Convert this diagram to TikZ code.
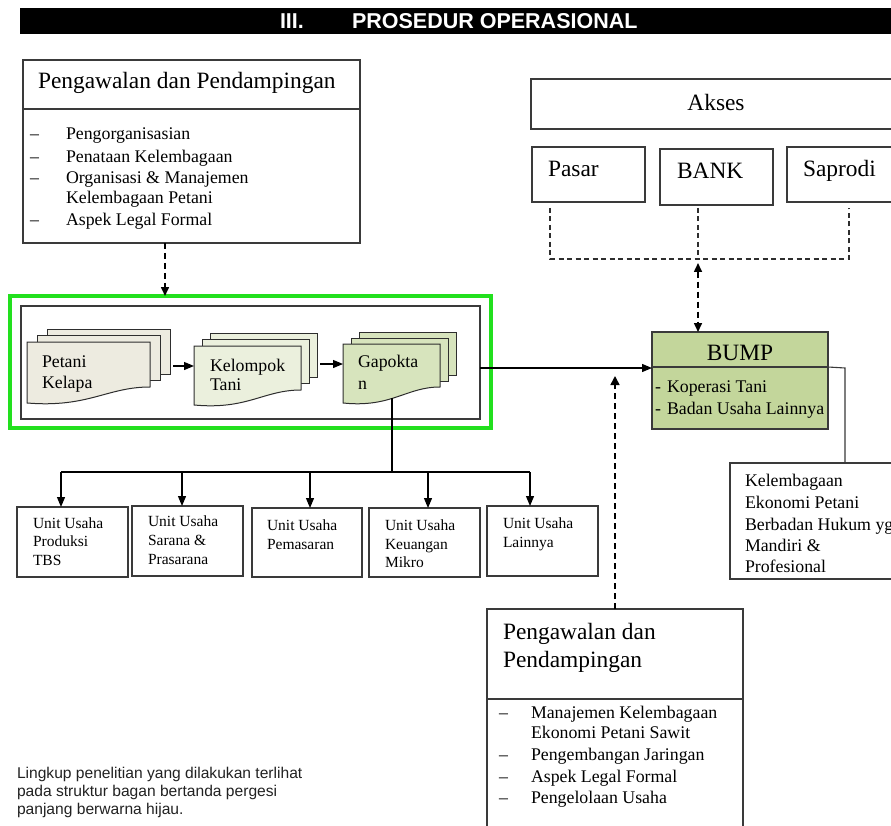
\documentclass[tikz,border=0pt]{standalone}
\usepackage{fontspec}
\setmainfont{Liberation Serif}
\newfontfamily\hsans{Liberation Sans}
\usetikzlibrary{arrows.meta,calc}
\definecolor{gbright}{HTML}{22E01E}
\definecolor{bcol}{HTML}{3A3A3A}
\definecolor{dline}{HTML}{2E2E2E}
\definecolor{docA}{HTML}{EDEBE0}
\definecolor{docB}{HTML}{EBF0DD}
\definecolor{docC}{HTML}{D7E4BD}
\definecolor{bumpc}{HTML}{C3D69B}
\definecolor{foot}{HTML}{222222}
\newcommand\fszA{\fontsize{23.4}{28}\selectfont}
\newcommand\fszB{\fontsize{17.8}{21}\selectfont}
\newcommand\fszC{\fontsize{15.5}{18.5}\selectfont}
\newcommand\fszD{\hsans\fontsize{15.6}{18}\selectfont}
\newcommand\docstack[9]{%
  \filldraw[#8, draw=dline, line width=1pt] ({#1+2*#6},{#2-2*#7}) rectangle ({#3+2*#6},{#4-2*#7});
  \filldraw[#8, draw=dline, line width=1pt] ({#1+#6},{#2-#7}) rectangle ({#3+#6},{#4-#7});
  \filldraw[#8, draw=dline, line width=1pt] (#1,#2) -- (#3,#2) -- (#3,#4) .. controls ({#3-0.35*(#3-#1)},#4) and ({#1+0.5*(#3-#1)},{#5+5}) .. (#1,#5) -- cycle;
  \node[inner sep=0pt, outer sep=0pt, anchor=north west, minimum width={#3-#1+2*#6}, minimum height={#5-#2+2*#7}] (#9) at (#1,{#2-2*#7}) {};
}
\begin{document}
\begin{tikzpicture}[x=1pt,y=-1pt,
  bx/.style={draw=bcol, line width=1.3pt, inner sep=0pt, outer sep=0pt, anchor=north west},
  tx/.style={inner sep=0pt, outer sep=0pt, anchor=base west},
  bline/.style={draw=bcol, line width=1.3pt},
  conn/.style={draw=black, line width=1.2pt},
  arr/.style={conn, -{Triangle[length=10pt,width=8pt]}},
  darr/.style={draw=black, line width=1.6pt, dash pattern=on 6pt off 4pt},
  gdash/.style={draw=dline, line width=1.1pt, dash pattern=on 5pt off 3.5pt}]
\clip (0,0) rectangle (891,826);
\fill[white] (0,0) rectangle (891,826);
% coordinates for connector positions
\coordinate (c61) at (61,0);
\coordinate (c165) at (165,0);
\coordinate (c182) at (182,0);
\coordinate (c310) at (310,0);
\coordinate (c392) at (392,0);
\coordinate (c428) at (428,0);
\coordinate (c530) at (530,0);
\coordinate (c550) at (550,0);
\coordinate (c615) at (615,0);
\coordinate (c698) at (698,0);
\coordinate (c849) at (849,0);
\coordinate (c845) at (845,0);
\coordinate (y259) at (0,259);
\coordinate (y368) at (0,368);
\coordinate (y472) at (0,472);

% header
\node[fill=black, inner sep=0pt, outer sep=0pt, minimum width=880pt, minimum height=26pt, anchor=north west] (hdr) at (20,8) {};
\node[tx, text=white, font=\hsans\bfseries\fontsize{21.5}{24}\selectfont] (h1) at (280,28.5) {III.};
\node[tx, text=white, font=\hsans\bfseries\fontsize{21.5}{24}\selectfont] (h2) at (352,28.5) {PROSEDUR OPERASIONAL};

% top-left box
\node[bx, minimum width=337pt, minimum height=183pt] (pp1) at (23,60) {};
\draw[bline] ($(pp1.north west)+(0,49)$) -- ($(pp1.north east)+(0,49)$);
\node[tx, font=\fszA] (pp1t) at (38,89) {Pengawalan dan Pendampingan};
\node[tx, font=\fszB] (pp1d1) at (30,140) {–};
\node[tx, font=\fszB] (pp1a) at (66,140) {Pengorganisasian};
\node[tx, font=\fszB] (pp1d2) at (30,163) {–};
\node[tx, font=\fszB] (pp1b) at (66,163) {Penataan Kelembagaan};
\node[tx, font=\fszB] (pp1d3) at (30,184) {–};
\node[tx, font=\fszB] (pp1c) at (66,184) {Organisasi \& Manajemen};
\node[tx, font=\fszB] (pp1c2) at (66,204) {Kelembagaan Petani};
\node[tx, font=\fszB] (pp1d4) at (30,226) {–};
\node[tx, font=\fszB] (pp1e) at (66,226) {Aspek Legal Formal};

% green frame and inner box
\node[draw=gbright, line width=4pt, inner sep=0pt, outer sep=0pt, anchor=north west, minimum width=481pt, minimum height=132pt] (green) at (10,296) {};
\node[bx, minimum width=459pt, minimum height=113pt] (inner) at (21,306) {};
\draw[darr, -{Triangle[length=9pt,width=8pt]}] (pp1.south -| c165) -- (green.north -| c165);

% document stacks
\docstack{27}{342}{150}{387}{403}{10}{6.5}{docA}{pet}
\docstack{194}{346}{301}{390}{405}{8}{6.5}{docB}{kel}
\docstack{343}{344}{440}{387}{403}{8}{6}{docC}{gap}
\node[tx, font=\fszB] (pett1) at (42,367) {Petani};
\node[tx, font=\fszB] (pett2) at (42,388) {Kelapa};
\node[tx, font=\fszB] (kelt1) at (210,371) {Kelompok};
\node[tx, font=\fszB] (kelt2) at (210,390) {Tani};
\node[tx, font=\fszB] (gapt1) at (358,367) {Gapokta};
\node[tx, font=\fszB] (gapt2) at (358,389) {n};
\draw[arr, shorten <=3pt] (pet.east) -- (pet.east -| kel.west);
\draw[arr, shorten <=3pt] ($(kel.east)+(0,-5)$) -- ($(kel.east -| gap.west)+(0,-5)$);

% Akses group
\node[bx, minimum width=370pt, minimum height=50pt] (akses) at (531,79) {};
\node[font=\fszA, inner sep=0pt] (akst) at (716,102) {Akses};
\node[bx, minimum width=113pt, minimum height=55pt] (pasar) at (532,147) {};
\node[tx, font=\fszA] (pasart) at (548,176.5) {Pasar};
\node[bx, minimum width=113pt, minimum height=56pt] (bank) at (660,149) {};
\node[tx, font=\fszA] (bankt) at (677,179) {BANK};
\node[bx, minimum width=114pt, minimum height=55pt] (saprodi) at (787,147) {};
\node[tx, font=\fszA] (saprodit) at (803,176.5) {Saprodi};
\draw[gdash] ($(pasar.south -| c550)+(0,6)$) -- (c550 |- y259) -- (c849 |- y259) -- ($(saprodi.south -| c849)+(0,6)$);
\draw[gdash] ($(bank.south -| c698)+(0,3)$) -- (c698 |- y259);

% BUMP
\node[bx, fill=bumpc, minimum width=176pt, minimum height=97pt] (bump) at (652,332) {};
\draw[bline] ($(bump.north west)+(0,35)$) -- ($(bump.north east)+(0,35)$);
\node[font=\fszA, inner sep=0pt, anchor=base] (bumpt) at (740,360) {BUMP};
\node[tx, font=\fszB] (bd1) at (655,392) {-};
\node[tx, font=\fszB] (bi1) at (667,392) {Koperasi Tani};
\node[tx, font=\fszB] (bd2) at (655,414) {-};
\node[tx, font=\fszB] (bi2) at (667,414) {Badan Usaha Lainnya};
\draw[darr, {Triangle[length=9pt,width=8pt]}-{Triangle[length=9pt,width=8pt]}] ($(c698 |- y259)+(0,4)$) -- (bump.north -| c698);
\draw[arr] (inner.east |- y368) -- (bump.west |- y368);

% Kelembagaan box
\node[bx, minimum width=180pt, minimum height=116pt] (kel2) at (730,463) {};
\draw[conn, line width=1.1pt, draw=bcol] ($(bump.north east)+(0,35)$) -- (c845 |- y368) -- (kel2.north -| c845);
\node[tx, font=\fszB] (k1) at (745,486) {Kelembagaan};
\node[tx, font=\fszB] (k2) at (745,508) {Ekonomi Petani};
\node[tx, font=\fszB] (k3) at (745,530) {Berbadan Hukum yg};
\node[tx, font=\fszB] (k4) at (745,551) {Mandiri \&};
\node[tx, font=\fszB] (k5) at (745,572) {Profesional};

% bottom-right Pengawalan box
\node[bx, minimum width=256pt, minimum height=240pt] (pp2) at (487,609) {};
\draw[bline] ($(pp2.north west)+(0,90)$) -- ($(pp2.north east)+(0,90)$);
\node[tx, font=\fszA] (pp2t1) at (503,639) {Pengawalan dan};
\node[tx, font=\fszA] (pp2t2) at (503,667) {Pendampingan};
\node[tx, font=\fszB] (pp2d1) at (499,718) {–};
\node[tx, font=\fszB] (pp2a) at (531,718) {Manajemen Kelembagaan};
\node[tx, font=\fszB] (pp2a2) at (531,738) {Ekonomi Petani Sawit};
\node[tx, font=\fszB] (pp2d2) at (499,760) {–};
\node[tx, font=\fszB] (pp2b) at (531,760) {Pengembangan Jaringan};
\node[tx, font=\fszB] (pp2d3) at (499,782) {–};
\node[tx, font=\fszB] (pp2c) at (531,782) {Aspek Legal Formal};
\node[tx, font=\fszB] (pp2d4) at (499,803) {–};
\node[tx, font=\fszB] (pp2e) at (531,803) {Pengelolaan Usaha};
\draw[darr, -{Triangle[length=9pt,width=9pt]}] (pp2.north -| c615) -- (c615 |- 0,376);

% unit boxes
\node[bx, minimum width=111pt, minimum height=70pt] (u1) at (17,507) {};
\node[bx, minimum width=111pt, minimum height=70pt] (u2) at (132,506) {};
\node[bx, minimum width=110pt, minimum height=69pt] (u3) at (252,508) {};
\node[bx, minimum width=111pt, minimum height=69pt] (u4) at (369,508) {};
\node[bx, minimum width=111pt, minimum height=70pt] (u5) at (487,506) {};
\node[tx, font=\fszC] (u1a) at (33,528) {Unit Usaha};
\node[tx, font=\fszC] (u1b) at (33,546.5) {Produksi};
\node[tx, font=\fszC] (u1c) at (33,565) {TBS};
\node[tx, font=\fszC] (u2a) at (148,526) {Unit Usaha};
\node[tx, font=\fszC] (u2b) at (148,545) {Sarana \&};
\node[tx, font=\fszC] (u2c) at (148,564) {Prasarana};
\node[tx, font=\fszC] (u3a) at (267,530) {Unit Usaha};
\node[tx, font=\fszC] (u3b) at (267,549) {Pemasaran};
\node[tx, font=\fszC] (u4a) at (385,530) {Unit Usaha};
\node[tx, font=\fszC] (u4b) at (385,549) {Keuangan};
\node[tx, font=\fszC] (u4c) at (385,567) {Mikro};
\node[tx, font=\fszC] (u5a) at (503,528) {Unit Usaha};
\node[tx, font=\fszC] (u5b) at (503,547) {Lainnya};

% bus
\draw[conn] ($(gap.south -| c392)+(0,-5)$) -- (c392 |- y472);
\draw[conn] (c61 |- y472) -- (c530 |- y472);
\draw[arr] (c61 |- y472) -- (u1.north -| c61);
\draw[arr] (c182 |- y472) -- (u2.north -| c182);
\draw[arr] (c310 |- y472) -- (u3.north -| c310);
\draw[arr] (c428 |- y472) -- (u4.north -| c428);
\draw[arr] (c530 |- y472) -- (u5.north -| c530);

% footnote
\node[tx, font=\fszD, text=foot] (f1) at (17,778) {Lingkup penelitian yang dilakukan terlihat};
\node[tx, font=\fszD, text=foot] (f2) at (17,796) {pada struktur bagan bertanda pergesi};
\node[tx, font=\fszD, text=foot] (f3) at (17,814) {panjang berwarna hijau.};
\end{tikzpicture}
\end{document}
